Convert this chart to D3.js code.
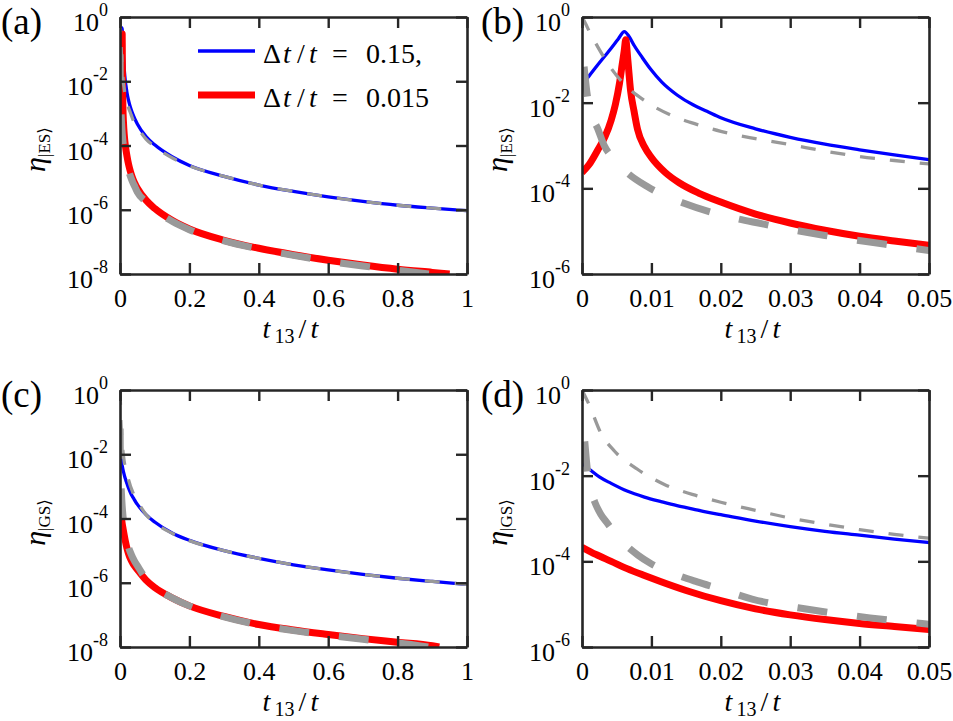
<!DOCTYPE html>
<html>
<head>
<meta charset="utf-8">
<script src="https://cdn.jsdelivr.net/npm/d3@7"></script>
<style>
  body { margin: 0; background: #fff; }
  svg text { font-family: "Liberation Serif", "Tinos", "DejaVu Serif", serif; fill: #000; }
</style>
</head>
<body>
<svg id="chart" width="953" height="721"></svg>
<script>
// values, stored as [t13/t, log10(eta)]
// excited state |ES>
const esBlue = [[0,-1.58],[0.001,-1.38],[0.00225,-1.12],[0.0033,-0.91],[0.0042,-0.73],[0.0052,-0.52],[0.0061,-0.34],
  [0.0068,-0.46],[0.0075,-0.66],[0.0087,-0.95],[0.0099,-1.22],[0.0115,-1.52],[0.0137,-1.82],[0.016,-2.05],[0.018,-2.2],
  [0.02,-2.35],[0.025,-2.61],[0.03,-2.81],[0.035,-2.97],[0.04,-3.1],[0.045,-3.22],[0.05,-3.33],[0.075,-3.72],[0.1,-3.98],
  [0.15,-4.35],[0.2,-4.62],[0.3,-4.96],[0.4,-5.23],[0.5,-5.43],[0.6,-5.6],[0.7,-5.74],[0.8,-5.86],[0.9,-5.95],[1,-6.03]];
const esRed = [[0,-3.63],[0.001,-3.45],[0.00225,-3.11],[0.0033,-2.8],[0.0042,-2.41],[0.0048,-2.05],[0.0054,-1.55],
  [0.0058,-1.1],[0.0061,-0.77],[0.0063,-0.53],[0.0066,-1.0],[0.007,-1.72],[0.0075,-2.2],[0.008,-2.62],[0.009,-3.03],
  [0.01,-3.28],[0.012,-3.63],[0.014,-3.87],[0.0168,-4.11],[0.02,-4.32],[0.025,-4.6],[0.03,-4.81],[0.035,-4.98],
  [0.04,-5.12],[0.045,-5.23],[0.05,-5.33],[0.075,-5.7],[0.1,-5.96],[0.15,-6.33],[0.2,-6.6],[0.3,-6.95],[0.4,-7.2],
  [0.5,-7.4],[0.6,-7.57],[0.7,-7.72],[0.8,-7.85],[0.9,-7.95],[0.95,-8.0]];
const esGrayThin = [[0,0],[0.0005,-0.15],[0.001,-0.32],[0.00225,-0.69],[0.0032,-0.95],[0.0042,-1.2],[0.0061,-1.57],
  [0.0089,-1.94],[0.0128,-2.29],[0.0168,-2.52],[0.02,-2.67],[0.025,-2.84],[0.03,-2.98],[0.035,-3.13],[0.04,-3.26],
  [0.045,-3.35],[0.05,-3.43],[0.075,-3.8],[0.1,-4.03],[0.15,-4.38],[0.2,-4.63],[0.3,-4.96],[0.4,-5.23],[0.5,-5.43],
  [0.6,-5.6],[0.7,-5.74],[0.8,-5.86],[0.9,-5.95],[1,-6.03]];
const esGrayThick = [[0.0003,-1.16],[0.0007,-1.75],[0.0012,-2.2],[0.00225,-2.6],[0.0032,-3.0],[0.0045,-3.3],
  [0.0066,-3.65],[0.0094,-3.96],[0.0147,-4.35],[0.02,-4.62],[0.026,-4.83],[0.035,-5.1],[0.0435,-5.3],[0.05,-5.45],
  [0.075,-5.75],[0.1,-6.0],[0.15,-6.36],[0.2,-6.62],[0.3,-6.97],[0.4,-7.22],[0.5,-7.42],[0.6,-7.6],[0.7,-7.75],
  [0.8,-7.88],[0.89,-8.0]];

// ground state |GS>
const gsBlue = [[0,-1.71],[0.0013,-1.88],[0.0025,-2.03],[0.0042,-2.18],[0.0065,-2.36],[0.009,-2.5],[0.0115,-2.61],
  [0.0137,-2.7],[0.016,-2.78],[0.018,-2.85],[0.02,-2.91],[0.025,-3.06],[0.03,-3.19],[0.035,-3.3],[0.04,-3.39],
  [0.045,-3.48],[0.05,-3.56],[0.075,-3.88],[0.1,-4.11],[0.15,-4.45],[0.2,-4.68],[0.3,-5.0],[0.4,-5.24],[0.5,-5.44],
  [0.6,-5.6],[0.7,-5.74],[0.8,-5.86],[0.9,-5.96],[1,-6.05]];
const gsRed = [[0,-3.67],[0.002,-3.84],[0.0042,-4.0],[0.0065,-4.17],[0.009,-4.33],[0.0113,-4.47],[0.015,-4.68],
  [0.02,-4.92],[0.025,-5.11],[0.03,-5.25],[0.035,-5.36],[0.04,-5.45],[0.045,-5.52],[0.05,-5.59],[0.075,-5.92],
  [0.1,-6.15],[0.15,-6.47],[0.2,-6.72],[0.3,-7.05],[0.4,-7.3],[0.5,-7.47],[0.6,-7.61],[0.7,-7.74],[0.8,-7.85],
  [0.9,-7.96],[0.92,-8.0]];
const gsGrayThin = [[0,0],[0.0011,-0.37],[0.0027,-1.0],[0.0047,-1.43],[0.008,-1.85],[0.0118,-2.2],[0.0166,-2.47],
  [0.02,-2.62],[0.025,-2.81],[0.03,-2.99],[0.035,-3.13],[0.04,-3.26],[0.045,-3.37],[0.05,-3.46],[0.075,-3.88],
  [0.1,-4.13],[0.15,-4.46],[0.2,-4.69],[0.3,-5.0],[0.4,-5.24],[0.5,-5.44],[0.6,-5.6],[0.7,-5.74],[0.8,-5.86],
  [0.9,-5.96],[1,-6.05]];
const gsGrayThick = [[0.0004,-1.2],[0.0007,-1.75],[0.0012,-2.3],[0.0018,-2.6],[0.0027,-2.9],[0.0037,-3.12],
  [0.005,-3.4],[0.0063,-3.62],[0.0081,-3.86],[0.0099,-4.05],[0.0137,-4.32],[0.0166,-4.48],[0.02,-4.65],
  [0.0245,-4.88],[0.033,-5.13],[0.0415,-5.32],[0.049,-5.45],[0.075,-5.88],[0.1,-6.14],[0.15,-6.47],[0.2,-6.72],
  [0.3,-7.06],[0.4,-7.31],[0.5,-7.49],[0.6,-7.63],[0.7,-7.76],[0.8,-7.87],[0.89,-8.0]];

// ticks and labels
const xTicksWide = [0, 0.2, 0.4, 0.6, 0.8, 1];
const xLabelsWide = ["0", "0.2", "0.4", "0.6", "0.8", "1"];
const xTicksZoom = [0, 0.01, 0.02, 0.03, 0.04, 0.05];
const xLabelsZoom = ["0", "0.01", "0.02", "0.03", "0.04", "0.05"];
const yTicksWide = [1e-8, 1e-6, 1e-4, 1e-2, 1];
const yExpWide = ["-8", "-6", "-4", "-2", "0"];
const yTicksZoom = [1e-6, 1e-4, 1e-2, 1];
const yExpZoom = ["-6", "-4", "-2", "0"];
const legendLabels = ["0.15,", "0.015"];

const W = 347, H = 257, TICK = 11;
const FONT = "'Liberation Serif', 'Tinos', 'DejaVu Serif', serif";
const svg = d3.select("#chart");

const panels = [
  { tag: "(a)", tagX: -119, left: 120, top: 17, xMax: 1, yMin: 1e-8, state: "ES",
    xTicks: xTicksWide, xLabels: xLabelsWide, yTicks: yTicksWide, yExp: yExpWide,
    data: [esBlue, esRed, esGrayThin, esGrayThick], legend: true },
  { tag: "(b)", tagX: -101, left: 582, top: 17, xMax: 0.05, yMin: 1e-6, state: "ES",
    xTicks: xTicksZoom, xLabels: xLabelsZoom, yTicks: yTicksZoom, yExp: yExpZoom,
    data: [esBlue, esRed, esGrayThin, esGrayThick] },
  { tag: "(c)", tagX: -119, left: 120, top: 390, xMax: 1, yMin: 1e-8, state: "GS",
    xTicks: xTicksWide, xLabels: xLabelsWide, yTicks: yTicksWide, yExp: yExpWide,
    data: [gsBlue, gsRed, gsGrayThin, gsGrayThick] },
  { tag: "(d)", tagX: -101, left: 582, top: 390, xMax: 0.05, yMin: 1e-6, state: "GS",
    xTicks: xTicksZoom, xLabels: xLabelsZoom, yTicks: yTicksZoom, yExp: yExpZoom,
    data: [gsBlue, gsRed, gsGrayThin, gsGrayThick] }
];

// blue, red, thin dashed gray, thick dashed gray
const styles = [
  { color: "#0000ff", width: 3.3, dash: null },
  { color: "#ff0000", width: 7, dash: null },
  { color: "#999999", width: 3.3, dash: "15,15" },
  { color: "#999999", width: 7, dash: "30,30" }
];

panels.forEach((p, i) => drawPanel(p, i));

function drawPanel(p, idx) {
  const g = svg.append("g").attr("transform", "translate(" + p.left + "," + p.top + ")");
  const x = d3.scaleLinear().domain([0, p.xMax]).range([0, W]);
  const y = d3.scaleLog().domain([p.yMin, 1]).range([H, 0]);

  const clipId = "clip" + idx;
  g.append("clipPath").attr("id", clipId)
    .append("rect").attr("width", W).attr("height", H);

  const line = d3.line()
    .x(d => x(d[0]))
    .y(d => y(Math.pow(10, d[1])))
    .curve(d3.curveMonotoneX);

  const plot = g.append("g").attr("clip-path", "url(#" + clipId + ")");
  p.data.forEach((series, k) => {
    const s = styles[k];
    plot.append("path")
      .datum(series)
      .attr("d", line)
      .attr("fill", "none")
      .attr("stroke", s.color)
      .attr("stroke-width", s.width)
      .attr("stroke-linejoin", "round")
      .attr("stroke-dasharray", s.dash);
  });

  // box with inward ticks on all four sides
  const frame = "#262626";
  const bottom = g.append("g").attr("transform", "translate(0," + H + ")")
    .call(d3.axisBottom(x).tickValues(p.xTicks).tickSizeInner(-TICK).tickSizeOuter(0)
      .tickPadding(15).tickFormat((d, j) => p.xLabels[j]));
  const top = g.append("g")
    .call(d3.axisTop(x).tickValues(p.xTicks).tickSizeInner(-TICK).tickSizeOuter(0).tickFormat(""));
  const left = g.append("g")
    .call(d3.axisLeft(y).tickValues(p.yTicks).tickSizeInner(-TICK).tickSizeOuter(0).tickFormat(""));
  const right = g.append("g").attr("transform", "translate(" + W + ",0)")
    .call(d3.axisRight(y).tickValues(p.yTicks).tickSizeInner(-TICK).tickSizeOuter(0).tickFormat(""));
  [bottom, top, left, right].forEach(a => {
    a.attr("font-family", FONT);
    a.select(".domain").attr("stroke", frame).attr("stroke-width", 2.6);
    a.selectAll(".tick line").attr("stroke", frame).attr("stroke-width", 2.4);
  });
  bottom.selectAll(".tick text")
    .style("font-family", FONT)
    .style("font-size", "26px").attr("fill", "#000");

  // y tick labels 10^n
  p.yTicks.forEach((v, j) => {
    const t = g.append("text")
      .attr("x", -12).attr("y", y(v) + 14)
      .attr("text-anchor", "end")
      .style("font-size", "26px");
    t.append("tspan").text("10");
    t.append("tspan").attr("dy", -15).style("font-size", "18px").text(p.yExp[j]);
  });

  // x axis label t13/t
  const c = W / 2;
  const xl = g.append("text").attr("y", H + 64).style("font-size", "28px");
  xl.append("tspan").attr("x", c - 31).style("font-style", "italic").text("t");
  xl.append("tspan").attr("x", c - 19).attr("dy", 5).style("font-size", "20px").text("13");
  xl.append("tspan").attr("x", c + 5).attr("dy", -5).text("/");
  xl.append("tspan").attr("x", c + 17).style("font-style", "italic").text("t");

  // y axis label eta_|ES>
  const yl = g.append("text")
    .attr("transform", "translate(-75," + (H / 2 + 4) + ") rotate(-90)")
    .attr("text-anchor", "middle")
    .style("font-size", "30px");
  yl.append("tspan").style("font-style", "italic").text("η");
  yl.append("tspan").attr("dy", 5).style("font-size", "17px")
    .text("|" + p.state + "⟩");

  // panel tag
  g.append("text")
    .attr("x", p.tagX).attr("y", 17)
    .style("font-size", "37px")
    .text(p.tag);

  if (p.legend) drawLegend(g);
}

function drawLegend(g) {
  const rows = [{ y: 34, base: 46, k: 0 }, { y: 78, base: 90, k: 1 }];
  rows.forEach((r, j) => {
    const s = styles[r.k];
    g.append("line")
      .attr("x1", 78).attr("x2", 135)
      .attr("y1", r.y).attr("y2", r.y)
      .attr("stroke", s.color).attr("stroke-width", s.width);
    const t = g.append("text").attr("y", r.base).style("font-size", "28px");
    t.append("tspan").attr("x", 143).text("Δ");
    t.append("tspan").attr("x", 163).style("font-style", "italic").text("t");
    t.append("tspan").attr("x", 177).text("/");
    t.append("tspan").attr("x", 189).style("font-style", "italic").text("t");
    t.append("tspan").attr("x", 212).text("=");
    t.append("tspan").attr("x", 246).text(legendLabels[j]);
  });
}
</script>
</body>
</html>
